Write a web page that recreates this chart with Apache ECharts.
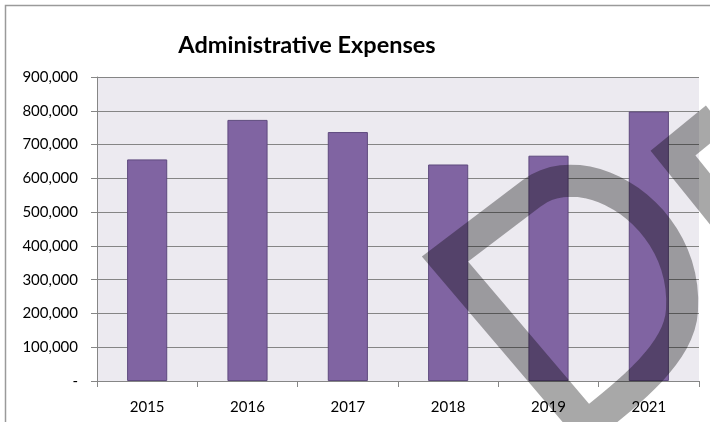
<!DOCTYPE html>
<html>
<head>
<meta charset="utf-8">
<script src="https://cdn.jsdelivr.net/npm/echarts@6/dist/echarts.min.js"></script>
<style>
html,body{margin:0;padding:0;background:#fff;}
#c{width:710px;height:422px;}
</style>
</head>
<body>
<div id="c"></div>
<script>
const titleText = 'Administrative Expenses';
const years = ['2015', '2016', '2017', '2018', '2019', '2021'];
const expenses = [656000, 773000, 737000, 641000, 667000, 798000];
const yMin = 0, yMax = 900000, yStep = 100000;

// decorative watermark outline (not data)
function bez(p0, p1, p2, p3, n) {
  const pts = [];
  for (let i = 1; i <= n; i++) {
    const t = i / n, s = 1 - t;
    pts.push([
      s*s*s*p0[0] + 3*s*s*t*p1[0] + 3*s*t*t*p2[0] + t*t*t*p3[0],
      s*s*s*p0[1] + 3*s*s*t*p1[1] + 3*s*t*t*p2[1] + t*t*t*p3[1]
    ]);
  }
  return pts;
}
const dShape = [[587, 426], [445, 259], [532, 193]]
  .concat(bez([532, 193], [585, 153], [688, 215], [682, 310], 24))
  .concat(bez([682, 310], [680, 352], [632, 390], [587, 426], 16));
dShape.pop();

const chart = echarts.init(document.getElementById('c'), null, {renderer: 'canvas'});
const font = 'Lato, "Open Sans", sans-serif';
const wm = {fill: 'none', stroke: 'rgba(0,0,0,0.34)', lineWidth: 32, lineJoin: 'miter'};
chart.setOption({
  animation: false,
  backgroundColor: '#fff',
  textStyle: {fontFamily: font},
  title: {
    text: titleText,
    left: 302, top: 28, textAlign: 'center',
    textStyle: {fontFamily: font, fontSize: 23.5, fontWeight: 'bold', color: '#000'}
  },
  grid: {
    left: 97, right: 11, top: 77, bottom: 41,
    show: true, backgroundColor: '#ECEAF0', borderWidth: 0
  },
  xAxis: {
    type: 'category', data: years,
    axisLine: {show: true, lineStyle: {color: '#868686', width: 1}},
    axisTick: {show: true, length: 6, lineStyle: {color: '#868686'}},
    axisLabel: {color: '#000', fontSize: 15, fontFamily: font, margin: 19}
  },
  yAxis: {
    type: 'value', min: yMin, max: yMax, interval: yStep,
    axisLine: {show: true, lineStyle: {color: '#868686', width: 1}},
    axisTick: {show: true, length: 6, lineStyle: {color: '#868686'}},
    splitLine: {show: true, lineStyle: {color: '#858585', width: 1}},
    axisLabel: {
      color: '#000', fontSize: 15, fontFamily: font, margin: 19,
      formatter: v => v === 0 ? '-' : v.toLocaleString('en-US')
    }
  },
  series: [{
    type: 'bar', data: expenses, barWidth: '40%',
    itemStyle: {color: '#8064A2', borderColor: '#5E4A7E', borderWidth: 1}
  }],
  graphic: [
    {type: 'rect', shape: {x: 5.5, y: 5.5, width: 740, height: 440},
     style: {fill: 'none', stroke: '#9a9a9a', lineWidth: 1.5}, silent: true, z: 0},
    {type: 'polygon', z: 100, silent: true, shape: {points: dShape}, style: wm},
    {type: 'polyline', z: 100, silent: true,
     shape: {points: [[785, 292], [673, 153], [716, 118]]}, style: wm}
  ]
});
</script>
</body>
</html>
